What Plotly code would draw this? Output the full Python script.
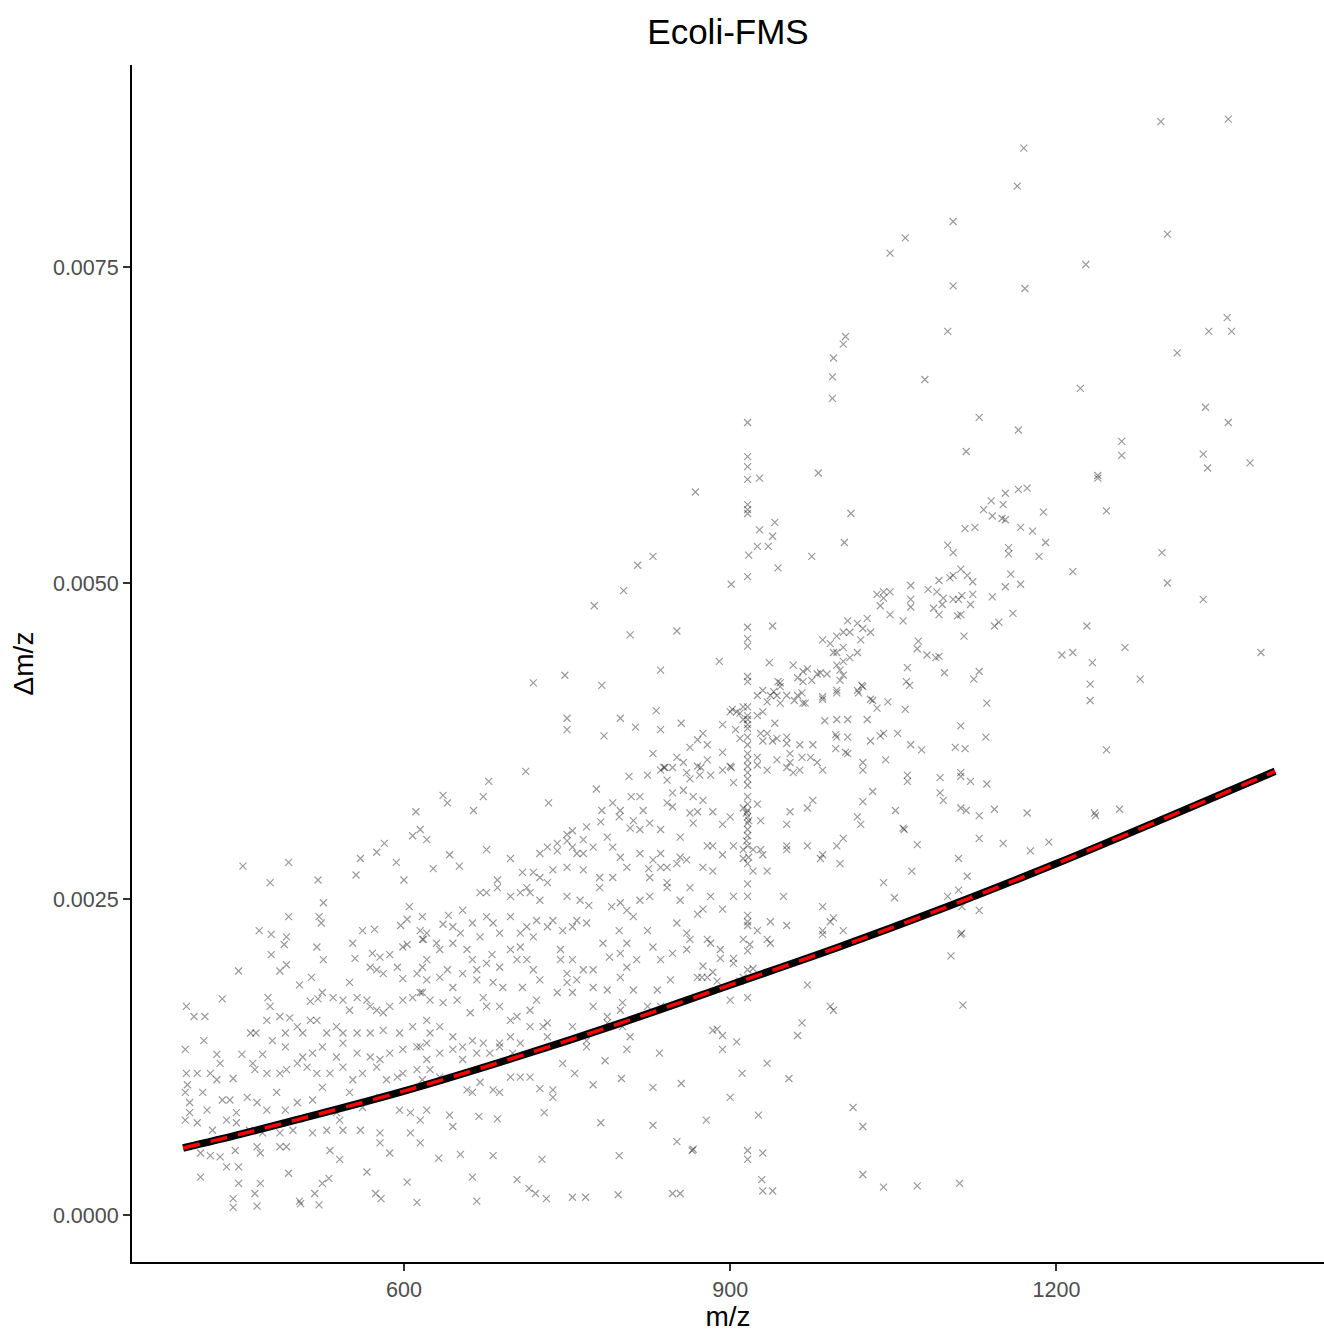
import plotly.graph_objects as go

# ---- fitted curve ----
line_mz = [397, 450, 500, 600, 700, 800, 900, 1000, 1100, 1200, 1300, 1401]
line_dmz = [0.00053, 0.00064, 0.00075, 0.00098, 0.00124, 0.00152, 0.00182,
            0.00212, 0.00244, 0.00278, 0.00314, 0.00351]

# ---- scatter points (m/z, delta m/z), by region ----
pts_left = [
    (526,0.00247),(605,0.00244),(494,0.00236),(522,0.00236),(524,0.00231),(603,0.00234),
    (467,0.00225),(478,0.00222),(492,0.00220),(562,0.00225),(573,0.00226),(597,0.00229),
    (615,0.00225),(618,0.00218),(553,0.00215),(520,0.00212),(490,0.00214),(478,0.00206),
    (526,0.00202),(555,0.00203),(571,0.00207),(578,0.00204),(587,0.00206),(599,0.00212),
    (603,0.00214),(448,0.00193),(486,0.00193),(492,0.00198),(515,0.00188),(504,0.00182),
    (569,0.00196),(575,0.00194),(581,0.00191),(594,0.00196),(599,0.00187),(612,0.00191),
    (617,0.00196),(433,0.00171),(400,0.00165),(407,0.00157),(417,0.00157),(475,0.00172),
    (477,0.00165),(525,0.00176),(535,0.00172),(550,0.00184),(557,0.00172),(566,0.00170),
    (569,0.00165),(575,0.00162),(581,0.00160),(514,0.00169),(521,0.00171),(550,0.00162),
    (544,0.00170),(587,0.00165),(599,0.00170),(608,0.00172),(617,0.00176),(416,0.00138),
    (428,0.00127),(459,0.00144),(464,0.00144),(479,0.00138),(491,0.00144),(474,0.00154),
    (486,0.00157),(495,0.00156),(502,0.00149),(507,0.00144),(514,0.00154),(520,0.00154),
    (529,0.00144),(538,0.00149),(544,0.00144),(557,0.00144),(569,0.00144),(581,0.00146),
    (596,0.00144),(608,0.00149),(491,0.00133),(507,0.00125),(516,0.00128),(525,0.00133),
    (538,0.00125),(544,0.00136),(557,0.00128),(569,0.00125),(578,0.00123),(587,0.00128),
    (599,0.00131),(612,0.00133),(621,0.00136),(400,0.00112),(410,0.00112),(422,0.00112),
    (431,0.00120),(428,0.00107),(443,0.00108),(451,0.00127),(461,0.00120),(463,0.00115),
    (470,0.00127),(474,0.00112),(486,0.00112),(492,0.00115),(502,0.00120),(511,0.00117),
    (520,0.00112),(532,0.00112),(544,0.00117),(553,0.00107),(562,0.00112),(575,0.00117),
    (584,0.00107),(594,0.00109),(599,0.00112),(612,0.00115),(399,0.00097),(403,0.00089),
    (403,0.00081),(415,0.00097),(419,0.00083),(433,0.00091),(440,0.00091),(446,0.00081),
    (456,0.00093),(465,0.00089),(474,0.00083),(483,0.00097),(491,0.00083),(502,0.00089),
    (516,0.00091),(525,0.00101),(538,0.00081),(550,0.00097),(562,0.00085),(578,0.00093),
    (596,0.00083),(606,0.00081),(615,0.00075),(410,0.00073),(424,0.00067),(437,0.00075),
    (446,0.00073),(458,0.00067),(470,0.00065),(486,0.00065),(498,0.00067),(516,0.00065),
    (529,0.00067),(541,0.00075),(544,0.00067),(560,0.00067),(578,0.00065),(578,0.00057),
    (587,0.00049),(606,0.00065),(615,0.00057),(413,0.00049),(422,0.00047),(431,0.00046),
    (445,0.00051),(465,0.00054),(468,0.00049),(486,0.00054),(492,0.00054),(532,0.00051),
    (541,0.00044),(437,0.00038),(448,0.00038),(413,0.00030),(494,0.00033),(525,0.00025),
    (531,0.00029),(566,0.00034),(603,0.00026),(448,0.00025),(468,0.00025),(463,0.00017),
    (443,0.00013),(443,0.00006),(465,0.00007),(504,0.00011),(505,0.00009),(518,0.00017),
    (522,0.00008),(574,0.00017),(579,0.00013),(612,0.00010),(401,0.00103),(399,0.00075),
    (399,0.00131),(494,0.00279),(521,0.00265),(477,0.00263),(452,0.00276),(560,0.00282),
    (556,0.00269),(575,0.00287),(582,0.00294),(593,0.00279),(600,0.00265),(608,0.00300),
    (615,0.00305),(611,0.00319),
]

pts_midleft = [
    (712,0.00351),(678,0.00343),(636,0.00332),(640,0.00326),(673,0.00331),(664,0.00320),
    (733,0.00326),(777,0.00337),(807,0.00347),(824,0.00348),(836,0.00352),(840,0.00354),
    (847,0.00354),(857,0.00358),(860,0.00350),(842,0.00344),(847,0.00334),(857,0.00336),
    (809,0.00331),(817,0.00331),(820,0.00320),(842,0.00326),(847,0.00323),(792,0.00326),
    (799,0.00320),(782,0.00320),(798,0.00315),(811,0.00312),(781,0.00311),(768,0.00307),
    (755,0.00304),(750,0.00301),(808,0.00306),(817,0.00305),(826,0.00310),(836,0.00305),
    (863,0.00318),(866,0.00310),(854,0.00299),(621,0.00297),(642,0.00285),(676,0.00289),
    (698,0.00282),(725,0.00286),(732,0.00291),(741,0.00294),(741,0.00288),(750,0.00296),
    (755,0.00291),(765,0.00297),(765,0.00286),(774,0.00291),(787,0.00299),(792,0.00291),
    (799,0.00283),(805,0.00275),(817,0.00286),(829,0.00281),(836,0.00286),(842,0.00275),
    (851,0.00278),(854,0.00283),(860,0.00281),(627,0.00274),(651,0.00276),(709,0.00271),
    (719,0.00271),(725,0.00267),(737,0.00273),(750,0.00275),(759,0.00286),(765,0.00273),
    (780,0.00267),(792,0.00267),(825,0.00274),(826,0.00267),(836,0.00275),(842,0.00263),
    (670,0.00255),(676,0.00255),(686,0.00259),(686,0.00265),(698,0.00252),(707,0.00255),
    (713,0.00259),(716,0.00255),(725,0.00249),(732,0.00263),(750,0.00252),(762,0.00249),
    (770,0.00245),(780,0.00259),(791,0.00244),(799,0.00247),(805,0.00241),(811,0.00236),
    (817,0.00249),(826,0.00252),(842,0.00259),(854,0.00249),(863,0.00259),(617,0.00236),
    (641,0.00237),(654,0.00241),(636,0.00230),(645,0.00228),(652,0.00223),(663,0.00231),
    (670,0.00220),(676,0.00236),(682,0.00231),(688,0.00223),(698,0.00236),(707,0.00223),
    (713,0.00228),(722,0.00233),(719,0.00220),(732,0.00228),(737,0.00233),(746,0.00225),
    (755,0.00228),(759,0.00233),(768,0.00231),(783,0.00215),(798,0.00225),(805,0.00215),
    (824,0.00225),(829,0.00212),(851,0.00231),(860,0.00223),(621,0.00223),(617,0.00218),
    (630,0.00215),(633,0.00210),(645,0.00215),(658,0.00210),(663,0.00202),(667,0.00194),
    (676,0.00199),(681,0.00206),(688,0.00196),(698,0.00210),(707,0.00212),(713,0.00202),
    (704,0.00202),(719,0.00194),(744,0.00210),(744,0.00202),(750,0.00191),(755,0.00202),
    (765,0.00194),(774,0.00194),(789,0.00204),(799,0.00207),(805,0.00196),(814,0.00202),
    (836,0.00202),(847,0.00207),(860,0.00210),(621,0.00202),(621,0.00186),(633,0.00188),
    (640,0.00194),(645,0.00180),(654,0.00191),(667,0.00186),(682,0.00184),(691,0.00180),
    (709,0.00180),(725,0.00186),(741,0.00176),(750,0.00184),(759,0.00186),(774,0.00180),
    (787,0.00178),(799,0.00188),(811,0.00178),(833,0.00178),(845,0.00186),(874,0.00188),
    (615,0.00176),(624,0.00170),(636,0.00168),(649,0.00170),(661,0.00160),(673,0.00172),
    (676,0.00165),(688,0.00165),(698,0.00154),(704,0.00157),(716,0.00162),(722,0.00170),
    (732,0.00152),(755,0.00176),(774,0.00165),(787,0.00152),(787,0.00157),(799,0.00162),
    (801,0.00168),(824,0.00165),(836,0.00165),(621,0.00154),(633,0.00149),(624,0.00144),
    (645,0.00141),(654,0.00133),(663,0.00138),(673,0.00136),(679,0.00128),(688,0.00136),
    (698,0.00141),(707,0.00136),(716,0.00149),(728,0.00149),(732,0.00141),(755,0.00149),
    (768,0.00138),(801,0.00149),(808,0.00141),(615,0.00133),(621,0.00123),(624,0.00115),
    (633,0.00128),(645,0.00131),(654,0.00123),(667,0.00128),(688,0.00133),(700,0.00128),
    (746,0.00120),(768,0.00133),(785,0.00122),(805,0.00131),(835,0.00128),(617,0.00107),
    (633,0.00109),(658,0.00099),(663,0.00097),(670,0.00105),(682,0.00099),(688,0.00097),
    (698,0.00109),(707,0.00109),(716,0.00109),(725,0.00100),(737,0.00099),(737,0.00093),
    (757,0.00112),(774,0.00103),(800,0.00108),(829,0.00101),(855,0.00104),(621,0.00083),
    (642,0.00079),(645,0.00070),(669,0.00078),(686,0.00076),(729,0.00081),(781,0.00073),
    (829,0.00071),(851,0.00058),(865,0.00051),(632,0.00045),(652,0.00048),(682,0.00047),
    (727,0.00044),(798,0.00047),(663,0.00030),(704,0.00028),(715,0.00021),(721,0.00017),
    (731,0.00013),(667,0.00011),(755,0.00014),(767,0.00014),(797,0.00016),(847,0.00017),
    (854,0.00017),
]

pts_center = [
    (944,0.00512),(901,0.00499),(916,0.00505),(916,0.00465),(916,0.00456),(916,0.00450),
    (939,0.00466),(890,0.00438),(936,0.00437),(916,0.00426),(916,0.00422),(944,0.00422),
    (946,0.00418),(958,0.00435),(962,0.00425),(967,0.00422),(971,0.00432),(985,0.00455),
    (992,0.00452),(998,0.00458),(1004,0.00461),(1010,0.00461),(1017,0.00468),(1022,0.00464),
    (1029,0.00461),(1035,0.00491),(1041,0.00493),(1038,0.00482),(998,0.00445),(1004,0.00438),
    (1010,0.00441),(980,0.00428),(989,0.00428),(998,0.00415),(1017,0.00415),(1022,0.00418),
    (1029,0.00408),(925,0.00411),(930,0.00415),(937,0.00411),(943,0.00411),(952,0.00411),
    (962,0.00411),(967,0.00405),(902,0.00400),(906,0.00398),(912,0.00402),(916,0.00402),
    (916,0.00395),(916,0.00385),(916,0.00378),(916,0.00372),(916,0.00365),(916,0.00355),
    (916,0.00345),(916,0.00331),(916,0.00325),(916,0.00315),(916,0.00305),(916,0.00292),
    (916,0.00278),(916,0.00262),(916,0.00252),(916,0.00237),(916,0.00229),(916,0.00209),
    (916,0.00194),(916,0.00172),(916,0.00320),(916,0.00310),(916,0.00300),(916,0.00388),
    (916,0.00392),(916,0.00360),(916,0.00350),(916,0.00340),(915,0.00318),(917,0.00312),
    (915,0.00296),(917,0.00283),(912,0.00392),(925,0.00395),(930,0.00398),(928,0.00381),
    (930,0.00375),(893,0.00388),(875,0.00381),(879,0.00372),(870,0.00355),(872,0.00348),
    (882,0.00348),(893,0.00352),(900,0.00355),(903,0.00342),(925,0.00362),(934,0.00352),
    (939,0.00375),(952,0.00378),(955,0.00365),(955,0.00358),(964,0.00372),(974,0.00362),
    (964,0.00352),(976,0.00372),(985,0.00408),(985,0.00352),(998,0.00392),(1008,0.00392),
    (998,0.00378),(1008,0.00378),(1022,0.00358),(1008,0.00365),(1026,0.00392),(1041,0.00381),
    (1043,0.00360),(1029,0.00375),(1022,0.00352),(863,0.00345),(866,0.00331),(875,0.00328),
    (870,0.00319),(884,0.00319),(893,0.00309),(900,0.00315),(912,0.00322),(925,0.00325),
    (928,0.00312),(955,0.00319),(952,0.00309),(971,0.00322),(976,0.00328),(1022,0.00327),
    (1017,0.00315),(1020,0.00309),(1031,0.00335),(1004,0.00298),(879,0.00292),(884,0.00292),
    (893,0.00285),(903,0.00292),(912,0.00289),(921,0.00289),(928,0.00289),(930,0.00285),
    (952,0.00289),(952,0.00292),(971,0.00292),(983,0.00282),(985,0.00285),(998,0.00292),
    (1001,0.00278),(875,0.00275),(884,0.00272),(912,0.00282),(921,0.00272),(934,0.00272),
    (882,0.00252),(870,0.00238),(875,0.00242),(893,0.00242),(903,0.00252),(949,0.00252),
    (985,0.00244),(863,0.00218),(879,0.00218),(882,0.00215),(891,0.00210),(916,0.00232),
    (925,0.00225),(937,0.00232),(952,0.00229),(985,0.00225),(992,0.00232),(995,0.00235),
    (1004,0.00225),(985,0.00222),(912,0.00218),(918,0.00214),(934,0.00218),(937,0.00215),
    (891,0.00203),(903,0.00203),(903,0.00199),(875,0.00197),(870,0.00188),(879,0.00188),
    (884,0.00192),(888,0.00185),(912,0.00188),(921,0.00195),(900,0.00170),(909,0.00185),
    (971,0.00182),(992,0.00165),(995,0.00162),(966,0.00152),(884,0.00146),(888,0.00147),
    (893,0.00142),(906,0.00137),(962,0.00142),(893,0.00131),(934,0.00120),(911,0.00112),
    (954,0.00108),(900,0.00093),(1013,0.00085),(1022,0.00070),(878,0.00075),(926,0.00079),
    (866,0.00052),(916,0.00051),(916,0.00044),(930,0.00049),(1022,0.00032),(929,0.00028),
    (930,0.00019),(939,0.00019),(1041,0.00022),(1072,0.00023),(1111,0.00025),
]

pts_upper_mid = [
    (1170,0.00844),(1164,0.00814),(1105,0.00786),(1061,0.00773),(1047,0.00761),(1105,0.00735),
    (1171,0.00733),(1100,0.00699),(1129,0.00631),(1117,0.00604),(1165,0.00621),(1079,0.00661),
    (1006,0.00695),(1004,0.00689),(995,0.00678),(994,0.00663),(994,0.00646),(916,0.00627),
    (916,0.00600),(916,0.00592),(916,0.00582),(927,0.00583),(981,0.00587),(868,0.00572),
    (1011,0.00555),(916,0.00562),(916,0.00558),(916,0.00555),(941,0.00548),(927,0.00542),
    (939,0.00537),(1005,0.00532),(925,0.00529),(935,0.00529),(917,0.00522),(975,0.00521),
    (829,0.00521),(815,0.00514),(802,0.00494),(775,0.00482),(808,0.00459),(851,0.00462),
    (1008,0.00470),(1026,0.00472),(1020,0.00455),(995,0.00445),(1004,0.00449),(1017,0.00445),
    (719,0.00421),(748,0.00427),(782,0.00419),(836,0.00431),(998,0.00435),(1001,0.00431),
    (1004,0.00427),(967,0.00430),(975,0.00423),(983,0.00429),(1001,0.00423),(1021,0.00419),
    (1018,0.00413),(1031,0.00407),(1035,0.00401),(998,0.00413),(985,0.00410),(966,0.00413),
    (969,0.00405),(959,0.00407),(940,0.00414),(946,0.00421),(934,0.00406),(946,0.00405),
    (750,0.00393),(750,0.00384),(784,0.00379),(799,0.00393),(813,0.00386),(832,0.00399),
    (836,0.00384),(855,0.00389),(829,0.00365),(987,0.00391),(997,0.00380),(997,0.00369),
    (1006,0.00366),(1038,0.00379),(980,0.00358),(966,0.00362),(958,0.00350),(941,0.00389),
    (934,0.00381),(943,0.00377),(952,0.00373),(943,0.00360),(900,0.00398),(909,0.00397),
    (905,0.00384),(909,0.00377),(863,0.00370),(870,0.00376),(879,0.00360),(893,0.00366),
    (901,0.00354),(851,0.00362),(873,0.00354),(839,0.00354),(925,0.00356),(952,0.00354),
]

pts_right = [
    (1165,0.00574),(1173,0.00575),(1153,0.00571),(1140,0.00565),(1151,0.00562),(1133,0.00558),
    (1141,0.00553),(1150,0.00551),(1153,0.00550),(1188,0.00556),(1116,0.00543),(1125,0.00544),
    (1167,0.00544),(1178,0.00541),(1190,0.00532),(1100,0.00530),(1156,0.00528),(1156,0.00523),
    (1105,0.00524),(1184,0.00521),(1112,0.00511),(1215,0.00509),(1118,0.00506),(1102,0.00504),
    (1105,0.00506),(1158,0.00507),(1092,0.00502),(1066,0.00498),(1082,0.00495),(1090,0.00493),
    (1123,0.00501),(1123,0.00491),(1113,0.00490),(1110,0.00487),(1105,0.00487),(1096,0.00488),
    (1095,0.00483),(1153,0.00497),(1167,0.00499),(1141,0.00489),(1121,0.00483),(1087,0.00480),
    (1112,0.00475),(1109,0.00474),(1092,0.00475),(1066,0.00487),(1066,0.00481),(1047,0.00475),
    (1059,0.00470),(1047,0.00493),(1041,0.00488),(1160,0.00476),(1147,0.00469),(1143,0.00466),
    (1115,0.00458),(1228,0.00466),(1073,0.00454),(1072,0.00448),(1081,0.00443),(1089,0.00441),
    (1092,0.00442),(1205,0.00443),(1215,0.00445),(1233,0.00437),(1063,0.00433),(1097,0.00429),
    (1062,0.00422),(1065,0.00419),(1129,0.00430),(1124,0.00424),(1231,0.00420),(1045,0.00406),
    (1061,0.00400),(1136,0.00405),(1231,0.00407),(1112,0.00387),(1054,0.00381),(1066,0.00372),
    (1076,0.00368),(1107,0.00370),(1116,0.00369),(1135,0.00378),(1063,0.00348),(1063,0.00343),
    (1093,0.00346),(1112,0.00350),(1112,0.00347),(1121,0.00343),(1136,0.00341),(1093,0.00334),
    (1096,0.00328),(1052,0.00320),(1112,0.00322),(1117,0.00320),(1129,0.00316),(1143,0.00321),
    (1173,0.00318),(1235,0.00318),(1059,0.00306),(1060,0.00305),(1072,0.00293),(1129,0.00298),
    (1151,0.00294),(1176,0.00288),(1193,0.00295),(1110,0.00282),(1067,0.00272),(1041,0.00263),
    (1118,0.00268),(1051,0.00251),(1100,0.00252),(1110,0.00257),(1113,0.00244),(1129,0.00241),
    (1112,0.00222),(1113,0.00223),(1103,0.00205),(1114,0.00166),
    (1296,0.00865),(1358,0.00867),(1302,0.00776),(1227,0.00752),(1357,0.00710),(1340,0.00699),
    (1361,0.00699),(1311,0.00682),(1222,0.00654),(1337,0.00639),(1358,0.00627),(1260,0.00612),
    (1260,0.00601),(1335,0.00602),(1339,0.00591),(1378,0.00595),(1238,0.00583),(1238,0.00585),
    (1246,0.00557),(1297,0.00524),(1302,0.00500),(1335,0.00487),(1263,0.00449),(1388,0.00445),
    (1277,0.00424),(1246,0.00368),(1236,0.00316),(1258,0.00321),
]

all_pts = pts_left + pts_midleft + pts_center + pts_upper_mid + pts_right
mz = [p[0] for p in all_pts]
dmz = [p[1] for p in all_pts]

fig = go.Figure()
fig.add_trace(go.Scatter(
    x=mz, y=dmz, mode="markers",
    marker=dict(symbol="x-thin", size=7, color="rgba(0,0,0,0.4)",
                line=dict(width=1.2, color="rgba(0,0,0,0.4)")),
    showlegend=False, hoverinfo="skip"))
fig.add_trace(go.Scatter(
    x=line_mz, y=line_dmz, mode="lines", line_shape="spline",
    line=dict(color="black", width=7.5), showlegend=False))
fig.add_trace(go.Scatter(
    x=line_mz, y=line_dmz, mode="lines", line_shape="spline",
    line=dict(color="#ff0000", width=3.5, dash="17px,11px"), showlegend=False))

fig.update_layout(
    width=1324, height=1332,
    margin=dict(l=132, r=0, t=65, b=70),
    paper_bgcolor="white", plot_bgcolor="white",
    font=dict(family="Liberation Sans, Arial, sans-serif", color="black"),
    title=dict(text="Ecoli-FMS", x=0.5, xref="paper", xanchor="center",
               y=1 - 32/1332, yanchor="middle",
               font=dict(size=35, color="black")),
)
fig.update_xaxes(
    range=[350, 1446], tickvals=[600, 900, 1200], ticktext=["600", "900", "1200"],
    showgrid=False, zeroline=False, showline=True, linecolor="black", linewidth=2,
    ticks="outside", ticklen=7, tickwidth=2, tickcolor="#333333",
    tickfont=dict(size=21.5, color="#4d4d4d"),
    title=dict(text="m/z", font=dict(size=28, color="black"), standoff=4))
fig.update_yaxes(
    range=[-0.000372, 0.009098], tickvals=[0, 0.0025, 0.005, 0.0075],
    ticktext=["0.0000", "0.0025", "0.0050", "0.0075"],
    showgrid=False, zeroline=False, showline=True, linecolor="black", linewidth=2,
    ticks="outside", ticklen=7, tickwidth=2, tickcolor="#333333",
    tickfont=dict(size=21.5, color="#4d4d4d"),
    title=dict(text="Δm/z", font=dict(size=28, color="black"), standoff=11))

fig.write_html(
    "out.html",
    config={"displayModeBar": False},
    post_script="document.body.style.margin='0';"
                "document.documentElement.style.overflow='hidden';"
                "document.body.style.overflow='hidden';")
